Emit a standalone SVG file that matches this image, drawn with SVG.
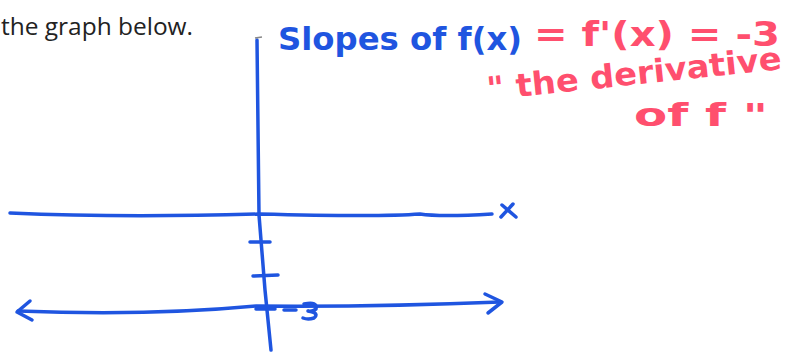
<svg xmlns="http://www.w3.org/2000/svg" width="797" height="356" viewBox="0 0 797 356">
<style>
.b{fill:none;stroke:#1f55e0;stroke-width:3.5;stroke-linecap:round;stroke-linejoin:round}
.bt{fill:#1f55e0;font-family:"DejaVu Sans",sans-serif;font-weight:bold}
.pt{fill:#ff4f6e;font-family:"DejaVu Sans",sans-serif;font-weight:bold}
</style>
<rect width="797" height="356" fill="#fff"/>
<text x="1" y="35" font-family="Open Sans, sans-serif" font-size="23" fill="#222" textLength="192" lengthAdjust="spacingAndGlyphs">the graph below.</text>
<!-- vertical axis -->
<path class="b" d="M257,40 L259,215 L265,290 L271,350"/>
<path d="M255,38 L262,37" stroke="#888" stroke-width="1.5"/>
<!-- x axis -->
<path class="b" d="M10,213 Q120,218 259,214 Q380,217 420,214 Q440,217 492,214"/>
<path class="b" d="M502,205 L516,217 M513,204 L501,217" stroke-width="4.5"/>
<!-- ticks -->
<path class="b" d="M250,242 L270,242 M253,276 L278,275 M256,309 L275,309"/>
<path class="b" d="M284,310 L296,310" stroke-width="4"/>
<path class="b" d="M304,304 Q318,301 316,309 Q312,312 308,311 Q320,313 314,318 Q308,320 303,318" stroke-width="3"/>
<!-- horizontal line with arrows -->
<path class="b" d="M18,311 Q150,316 256,306 Q380,307 500,302"/>
<path class="b" d="M30,301 L17,312 L32,320"/>
<path class="b" d="M485,294 L502,302 L488,313"/>
<!-- labels -->
<text class="bt" x="278" y="50" font-size="32" textLength="244" lengthAdjust="spacingAndGlyphs">Slopes of f(x)</text>
<text class="pt" x="534" y="46" font-size="34" textLength="246" lengthAdjust="spacingAndGlyphs">= f'(x) = -3</text>
<text class="pt" x="488" y="100" font-size="32" textLength="296" lengthAdjust="spacingAndGlyphs" transform="rotate(-6 488 100)">" the derivative</text>
<text class="pt" x="634" y="126" font-size="32" textLength="134" lengthAdjust="spacingAndGlyphs">of  f "</text>
</svg>
